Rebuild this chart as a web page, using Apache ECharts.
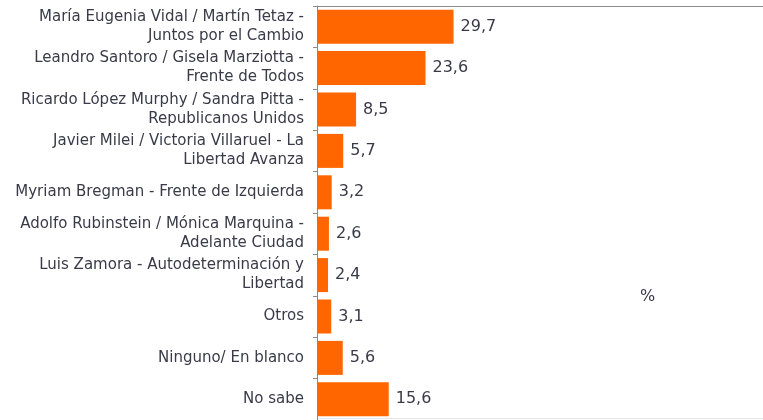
<!DOCTYPE html>
<html><head><meta charset="utf-8">
<script src="https://cdn.jsdelivr.net/npm/echarts@6/dist/echarts.min.js"></script>
<style>html,body{margin:0;padding:0;background:#fff}#c{width:763px;height:420px}</style>
</head><body><div id="c"></div>
<script>
const categories = [
  "María Eugenia Vidal / Martín Tetaz -\nJuntos por el Cambio",
  "Leandro Santoro / Gisela Marziotta -\nFrente de Todos",
  "Ricardo López Murphy / Sandra Pitta -\nRepublicanos Unidos",
  "Javier Milei / Victoria Villaruel - La\nLibertad Avanza",
  "Myriam Bregman - Frente de Izquierda",
  "Adolfo Rubinstein / Mónica Marquina -\nAdelante Ciudad",
  "Luis Zamora - Autodeterminación y\nLibertad",
  "Otros",
  "Ninguno/ En blanco",
  "No sabe"
];
const values = [29.7, 23.6, 8.5, 5.7, 3.2, 2.6, 2.4, 3.1, 5.6, 15.6];
const unitLabel = "%";

const chart = echarts.init(document.getElementById('c'));
chart.setOption({
  animation: false,
  grid: { left: 317, top: 6, right: 0, height: 417, containLabel: false },
  xAxis: {
    type: 'value', position: 'top', min: 0, max: 97,
    axisLine: { show: true, lineStyle: { color: '#8a8a8a', width: 1 } },
    axisTick: { show: false }, axisLabel: { show: false }, splitLine: { show: false }
  },
  yAxis: {
    type: 'category', data: categories, inverse: true,
    axisLine: { show: true, lineStyle: { color: '#8a8a8a', width: 1 } },
    axisTick: { show: true, length: 4, lineStyle: { color: '#8a8a8a' } },
    axisLabel: { margin: 13, fontFamily: 'DejaVu Sans', fontSize: 15, color: '#3a3a48', lineHeight: 19, align: 'right' }
  },
  series: [{
    type: 'bar', data: values, barWidth: 34,
    itemStyle: { color: '#FF6600' },
    label: {
      show: true, position: 'right', distance: 7,
      fontFamily: 'DejaVu Sans', fontSize: 16, color: '#3a3a48',
      formatter: p => String(p.value).replace('.', ',')
    }
  }],
  graphic: [
    { type: 'text', left: 640, top: 289, style: { text: unitLabel, fontFamily: 'DejaVu Sans', fontSize: 16, fill: '#3a3a48' } },
    { type: 'line', shape: { x1: 317, y1: 418.5, x2: 763, y2: 418.5 }, style: { stroke: '#e4e4e4', lineWidth: 1 } }
  ]
});
</script></body></html>
